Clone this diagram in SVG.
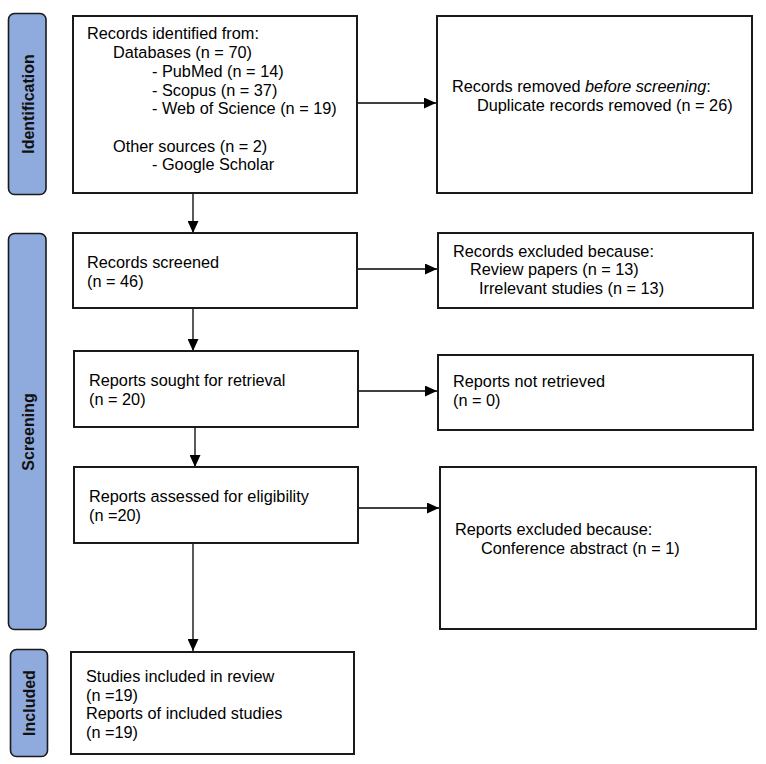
<svg xmlns="http://www.w3.org/2000/svg" width="766" height="764" viewBox="0 0 766 764">
<style>
.box{fill:#fff;stroke:#1a1a1a;stroke-width:2}
.side{fill:#8faadc;stroke:#1a1a1a;stroke-width:1.6}
.t{font-family:"Liberation Sans",Arial,sans-serif;font-size:16.3px;fill:#000}
.st{font-family:"Liberation Sans",Arial,sans-serif;font-size:16px;font-weight:bold;fill:#111;text-anchor:middle;dominant-baseline:central}
.c{stroke:#000;stroke-width:1.3;fill:none}
</style>
<defs>
<marker id="ah" markerUnits="userSpaceOnUse" markerWidth="13" markerHeight="11" refX="12" refY="5.5" orient="auto">
<path d="M0,0 L12,5.5 L0,11 Z" fill="#000"/>
</marker>
</defs>
<rect width="766" height="764" fill="#fff"/>
<g id="phase-identification"><rect class="side" x="8.5" y="13.5" width="37.5" height="181" rx="6"/><text class="st" transform="translate(28,104) rotate(-90)">Identification</text></g>
<g id="phase-screening"><rect class="side" x="8.5" y="233.5" width="37.5" height="396" rx="6"/><text class="st" transform="translate(28,432) rotate(-90)">Screening</text></g>
<g id="phase-included"><rect class="side" x="10.5" y="649.5" width="37" height="107" rx="6"/><text class="st" transform="translate(29,703) rotate(-90)">Included</text></g>
<g id="connectors">
<line class="c" x1="193" y1="193" x2="193" y2="233" marker-end="url(#ah)"/>
<line class="c" x1="355" y1="103" x2="436" y2="103" marker-end="url(#ah)"/>
<line class="c" x1="355" y1="269" x2="437" y2="269" marker-end="url(#ah)"/>
<line class="c" x1="193" y1="308" x2="193" y2="351" marker-end="url(#ah)"/>
<line class="c" x1="357" y1="391" x2="437" y2="391" marker-end="url(#ah)"/>
<line class="c" x1="195" y1="427" x2="195" y2="467" marker-end="url(#ah)"/>
<line class="c" x1="357" y1="508" x2="439" y2="508" marker-end="url(#ah)"/>
<line class="c" x1="193" y1="543" x2="193" y2="651" marker-end="url(#ah)"/>
</g>
<g id="records-identified"><rect class="box" x="73" y="16" width="284" height="177"/>
<text class="t" x="87" y="39">Records identified from:</text>
<text class="t" x="113" y="58">Databases (n = 70)</text>
<text class="t" x="152" y="77">- PubMed (n = 14)</text>
<text class="t" x="152" y="95.5">- Scopus (n = 37)</text>
<text class="t" x="152" y="114">- Web of Science (n = 19)</text>
<text class="t" x="113" y="152">Other sources (n = 2)</text>
<text class="t" x="152" y="170">- Google Scholar</text>
</g>
<g id="records-removed"><rect class="box" x="437" y="16" width="315" height="177"/>
<text class="t" x="452" y="92">Records removed <tspan font-style="italic">before screening</tspan>:</text>
<text class="t" x="477" y="111">Duplicate records removed (n = 26)</text>
</g>
<g id="records-screened"><rect class="box" x="73" y="233" width="284" height="75"/>
<text class="t" x="87" y="268">Records screened</text>
<text class="t" x="87" y="287">(n = 46)</text>
</g>
<g id="records-excluded"><rect class="box" x="438" y="233" width="315" height="75"/>
<text class="t" x="453" y="257">Records excluded because:</text>
<text class="t" x="470" y="275">Review papers (n = 13)</text>
<text class="t" x="479" y="294">Irrelevant studies (n = 13)</text>
</g>
<g id="reports-sought"><rect class="box" x="74" y="351" width="284" height="76"/>
<text class="t" x="89" y="386">Reports sought for retrieval</text>
<text class="t" x="89" y="405">(n = 20)</text>
</g>
<g id="reports-not-retrieved"><rect class="box" x="438" y="355" width="315" height="75"/>
<text class="t" x="453" y="387">Reports not retrieved</text>
<text class="t" x="453" y="406">(n = 0)</text>
</g>
<g id="reports-assessed"><rect class="box" x="74" y="467" width="284" height="76"/>
<text class="t" x="89" y="502">Reports assessed for eligibility</text>
<text class="t" x="89" y="521">(n =20)</text>
</g>
<g id="reports-excluded"><rect class="box" x="440" y="467" width="316" height="162"/>
<text class="t" x="455" y="535">Reports excluded because:</text>
<text class="t" x="481" y="554">Conference abstract (n = 1)</text>
</g>
<g id="studies-included"><rect class="box" x="71" y="652" width="283" height="102"/>
<text class="t" x="86" y="682">Studies included in review</text>
<text class="t" x="86" y="701">(n =19)</text>
<text class="t" x="86" y="719">Reports of included studies</text>
<text class="t" x="86" y="738">(n =19)</text>
</g>
</svg>
